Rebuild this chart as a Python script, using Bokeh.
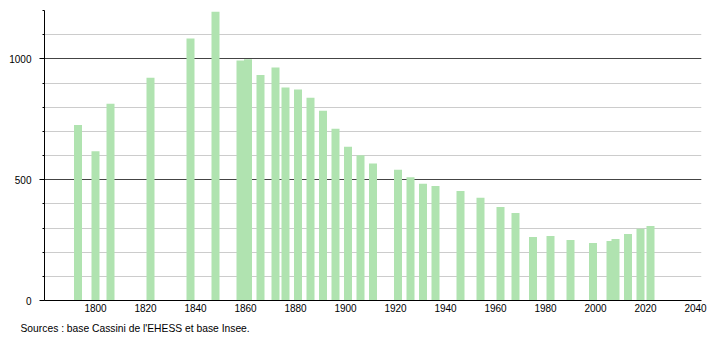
from bokeh.plotting import figure
from bokeh.models import Range1d, SingleIntervalTicker, Title, ColumnDataSource
from bokeh.embed import file_html
from bokeh.resources import INLINE

years = [1793, 1800, 1806, 1822, 1838, 1848, 1858, 1861, 1866, 1872, 1876, 1881,
         1886, 1891, 1896, 1901, 1906, 1911, 1921, 1926, 1931, 1936, 1946, 1954,
         1962, 1968, 1975, 1982, 1990, 1999, 2006, 2008, 2013, 2018, 2022]
population = [726, 618, 814, 922, 1084, 1195, 993, 998, 933, 964, 881, 873,
              839, 785, 711, 636, 601, 567, 541, 510, 483, 474, 453, 425,
              387, 362, 263, 267, 250, 238, 246, 254, 275, 297, 308]
x_ticks = [1800, 1820, 1840, 1860, 1880, 1900, 1920, 1940, 1960, 1980, 2000, 2020, 2040]
source_text = "Sources : base Cassini de l'EHESS et base Insee."

FONT = "Liberation Sans"
BAR = "#b0e3b0"

p = figure(width=710, height=340, output_backend="svg", toolbar_location=None,
           x_range=Range1d(1779.6, 2042.4), y_range=Range1d(0, 1200),
           min_border_left=44, min_border_right=9, min_border_top=10, min_border_bottom=40)
p.outline_line_color = None
p.background_fill_color = "white"
p.border_fill_color = "white"

src = ColumnDataSource(dict(x=years, top=population))
p.vbar(x="x", top="top", width=3.2, bottom=0, source=src,
       fill_color=BAR, line_color=None)

# x axis
p.xaxis.ticker = x_ticks
p.xaxis.major_tick_out = 0
p.xaxis.major_tick_in = 0
p.xaxis.minor_tick_out = 0
p.xaxis.minor_tick_in = 0
p.xaxis.axis_line_color = "black"
p.xaxis.axis_line_width = 1
p.xaxis.major_label_standoff = 3
p.xaxis.major_label_text_font = FONT
p.xaxis.major_label_text_font_size = "10px"
p.xaxis.major_label_text_color = "black"
p.xgrid.grid_line_color = None

# y axis
p.yaxis.ticker = SingleIntervalTicker(interval=500, num_minor_ticks=5)
p.yaxis.major_tick_out = 5
p.yaxis.major_tick_in = 0
p.yaxis.minor_tick_out = 2
p.yaxis.minor_tick_in = 0
p.yaxis.axis_line_color = "black"
p.yaxis.major_tick_line_color = "black"
p.yaxis.minor_tick_line_color = "black"
p.yaxis.major_label_standoff = 8
p.yaxis.major_label_text_font = FONT
p.yaxis.major_label_text_font_size = "10px"
p.yaxis.major_label_text_color = "black"

p.ygrid.grid_line_color = "#444444"
p.ygrid.grid_line_width = 1
p.ygrid.minor_grid_line_color = "#cccccc"
p.ygrid.minor_grid_line_width = 1

p.add_layout(Title(text=source_text, align="left", offset=-24, standoff=12,
                   text_font=FONT, text_font_size="10.3px", text_font_style="normal",
                   text_color="black"), "below")

open("out.html", "w").write(file_html(p, INLINE))
